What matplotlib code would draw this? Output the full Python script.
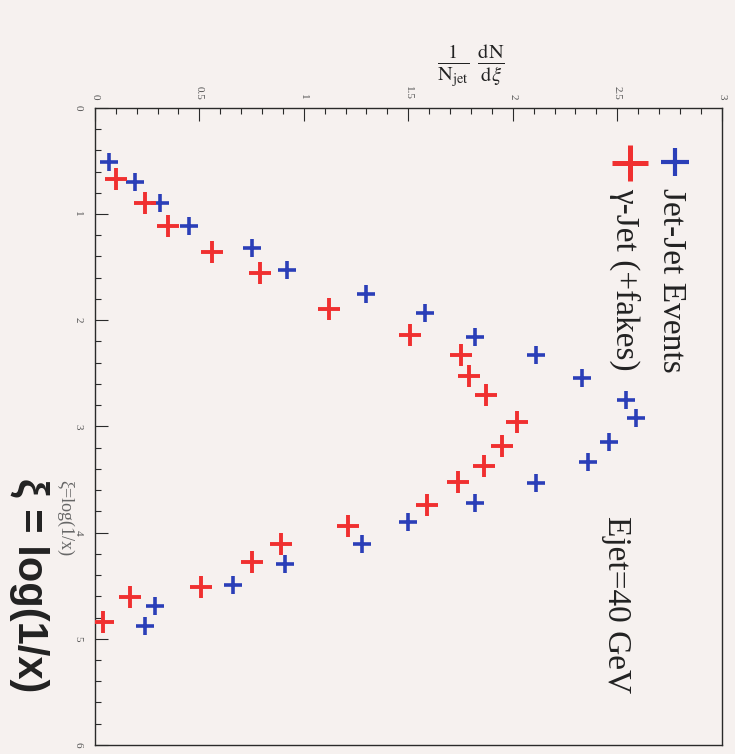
import numpy as np
import matplotlib
matplotlib.use('Agg')
import matplotlib.pyplot as plt
import matplotlib.ticker as ticker

# Figure is a scanned plot turned 90 degrees clockwise:
# xi runs down the page, 1/N dN/dxi runs left to right.

# Jet-Jet events (blue)
XI_JJ = [0.51, 0.70, 0.90, 1.11, 1.32, 1.53, 1.75, 1.93, 2.16, 2.33, 2.54, 2.75,
         2.92, 3.15, 3.34, 3.53, 3.72, 3.90, 4.11, 4.30, 4.49, 4.69, 4.88]
DN_JJ = [0.07, 0.19, 0.31, 0.45, 0.75, 0.92, 1.30, 1.58, 1.82, 2.11, 2.33, 2.54,
         2.59, 2.46, 2.36, 2.11, 1.82, 1.50, 1.28, 0.91, 0.66, 0.29, 0.24]

# gamma-Jet (+fakes) (red)
XI_GJ = [0.67, 0.90, 1.11, 1.36, 1.56, 1.89, 2.14, 2.33, 2.53, 2.70, 2.96,
         3.18, 3.37, 3.52, 3.74, 3.94, 4.11, 4.28, 4.51, 4.61, 4.84]
DN_GJ = [0.10, 0.24, 0.35, 0.56, 0.79, 1.12, 1.51, 1.75, 1.79, 1.87, 2.02,
         1.95, 1.86, 1.74, 1.59, 1.21, 0.89, 0.75, 0.51, 0.17, 0.04]

VAL_TICKS = [0, 0.5, 1, 1.5, 2, 2.5, 3]
VAL_LABELS = ['0', '0.5', '1', '1.5', '2', '2.5', '3']
XI_TICKS = [0, 1, 2, 3, 4, 5, 6]

BLUE = '#2b3fb8'
RED = '#f03030'
PAPER = '#f6f1ef'
INK = '#2a2a2a'

plt.rcParams['mathtext.fontset'] = 'stix'

fig = plt.figure(figsize=(7.35, 7.54), dpi=100, facecolor=PAPER)
ax = fig.add_axes([0.129, 0.012, 0.853, 0.845], facecolor=PAPER)

ax.plot(DN_JJ, XI_JJ, ls='none', marker='+', ms=13, mew=2.6, color=BLUE, zorder=3)
ax.plot(DN_GJ, XI_GJ, ls='none', marker='+', ms=16, mew=2.8, color=RED, zorder=3)

ax.set_xlim(0, 3)
ax.set_ylim(6, 0)

# value axis along the top of the page
ax.xaxis.tick_top()
ax.set_xticks(VAL_TICKS)
ax.set_xticklabels(VAL_LABELS, rotation=-90, family='Liberation Serif',
                   fontsize=8, color='#555555')
ax.xaxis.set_minor_locator(ticker.MultipleLocator(0.1))
ax.set_yticks(XI_TICKS)
ax.set_yticklabels([str(t) for t in XI_TICKS], rotation=-90,
                   family='Liberation Serif', fontsize=8, color='#555555',
                   va='center')
ax.yaxis.set_minor_locator(ticker.MultipleLocator(0.2))
ax.tick_params(which='both', direction='in', color=INK, width=0.8)
ax.tick_params(which='major', length=9)
ax.tick_params(which='minor', length=4)
ax.tick_params(axis='x', pad=6)
ax.tick_params(axis='y', pad=9)
for sp in ax.spines.values():
    sp.set_color(INK)
    sp.set_linewidth(1.0)

# axis titles
fig.text(0.64, 0.913, r'$\frac{1}{\mathrm{N_{jet}}}\ \frac{\mathrm{dN}}{\mathrm{d}\xi}$',
         fontsize=21, ha='center', va='center', color='#222222')
fig.text(0.040, 0.224, r'ξ = log(1/x)', rotation=-90, fontsize=30,
         fontweight='bold', family='Liberation Sans', ha='center', va='center',
         color='#222222')
fig.text(0.088, 0.313, r'ξ=log(1/x)', rotation=-90, fontsize=13,
         family='Liberation Serif', ha='center', va='center', color='#666666')

# legend keys drawn by hand so they can be turned with the page
ax.plot([0.925], [0.915], transform=ax.transAxes, ls='none', marker='+',
        ms=20, mew=3.0, color=BLUE, clip_on=False)
ax.plot([0.853], [0.914], transform=ax.transAxes, ls='none', marker='+',
        ms=26, mew=3.6, color=RED, clip_on=False)
ax.text(0.919, 0.874, 'Jet-Jet Events', transform=ax.transAxes, rotation=-90,
        fontsize=24, family='Liberation Serif', ha='center', va='top',
        color='#222222')
ax.text(0.845, 0.874, 'γ-Jet (+fakes)', transform=ax.transAxes, rotation=-90,
        fontsize=24, family='Liberation Serif', ha='center', va='top',
        color='#222222')
ax.text(0.832, 0.360, 'Ejet=40 GeV', transform=ax.transAxes, rotation=-90,
        fontsize=24, family='Liberation Serif', ha='center', va='top',
        color='#222222')

fig.savefig('out.png', dpi=100, facecolor=PAPER)
